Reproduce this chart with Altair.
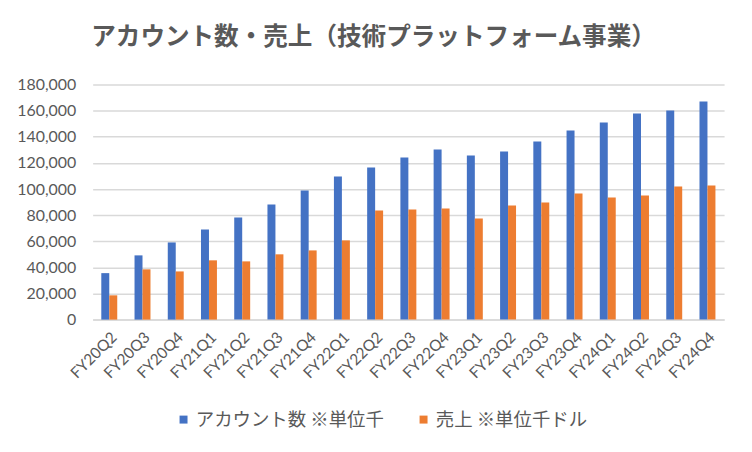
import altair as alt
import pandas as pd

quarters = ["FY20Q2", "FY20Q3", "FY20Q4", "FY21Q1", "FY21Q2", "FY21Q3", "FY21Q4",
            "FY22Q1", "FY22Q2", "FY22Q3", "FY22Q4", "FY23Q1", "FY23Q2", "FY23Q3",
            "FY23Q4", "FY24Q1", "FY24Q2", "FY24Q3", "FY24Q4"]
accounts = [35600, 49200, 59100, 69100, 78300, 88200, 98900, 109600, 116500, 124200,
            130300, 125700, 128700, 136400, 144800, 150900, 157800, 160100, 167000]
sales = [18600, 38500, 36900, 45400, 44600, 50000, 53000, 60700, 83600, 84400,
         85100, 77500, 87400, 89700, 96600, 93600, 95100, 102000, 102700]
series_names = ["アカウント数 ※単位千", "売上 ※単位千ドル"]
series_colors = ["#4472C4", "#ED7D31"]

rows = []
for q, a, s in zip(quarters, accounts, sales):
    rows.append({"q": q, "series": series_names[0], "v": a})
    rows.append({"q": q, "series": series_names[1], "v": s})
df = pd.DataFrame(rows)

num_font = "Lato"
jp_font = "Noto Sans CJK JP"

chart = alt.Chart(df).mark_bar().encode(
    x=alt.X("q:N", sort=quarters, title=None,
            scale=alt.Scale(paddingInner=0.52, paddingOuter=0.26),
            axis=alt.Axis(labelAngle=-45, ticks=False, domainColor="#d9d9d9",
                          domainWidth=1.5, labelColor="#595959", labelFontSize=15.5,
                          labelFont=num_font, labelPadding=10)),
    xOffset=alt.XOffset("series:N", sort=series_names),
    y=alt.Y("v:Q", title=None,
            scale=alt.Scale(domain=[0, 180000]),
            axis=alt.Axis(values=list(range(0, 180001, 20000)), format=",.0f",
                          domain=False, ticks=False, labelPadding=17,
                          labelColor="#595959", labelFontSize=16, labelFont=num_font,
                          gridColor="#d9d9d9", gridWidth=1.5)),
    color=alt.Color("series:N", sort=series_names,
                    scale=alt.Scale(domain=series_names, range=series_colors),
                    legend=alt.Legend(title=None, orient="none", direction="horizontal",
                                      legendX=82, legendY=327, symbolType="square",
                                      symbolSize=64, symbolStrokeWidth=0,
                                      labelFont=jp_font, labelFontSize=18.5,
                                      labelLimit=400,
                                      labelColor="#595959", columnPadding=30,
                                      labelOffset=3, padding=0)),
).properties(
    width=634, height=236,
    padding={"left": 85, "top": 76, "right": 20, "bottom": 124},
    autosize="none",
    title=alt.TitleParams("アカウント数・売上（技術プラットフォーム事業）",
                          font=jp_font, fontSize=24.7, fontWeight="bold",
                          color="#595959", anchor="middle", dx=-35, offset=27),
).configure_view(stroke=None)

chart.save("out.html", embed_options={"renderer": "svg", "actions": False})
